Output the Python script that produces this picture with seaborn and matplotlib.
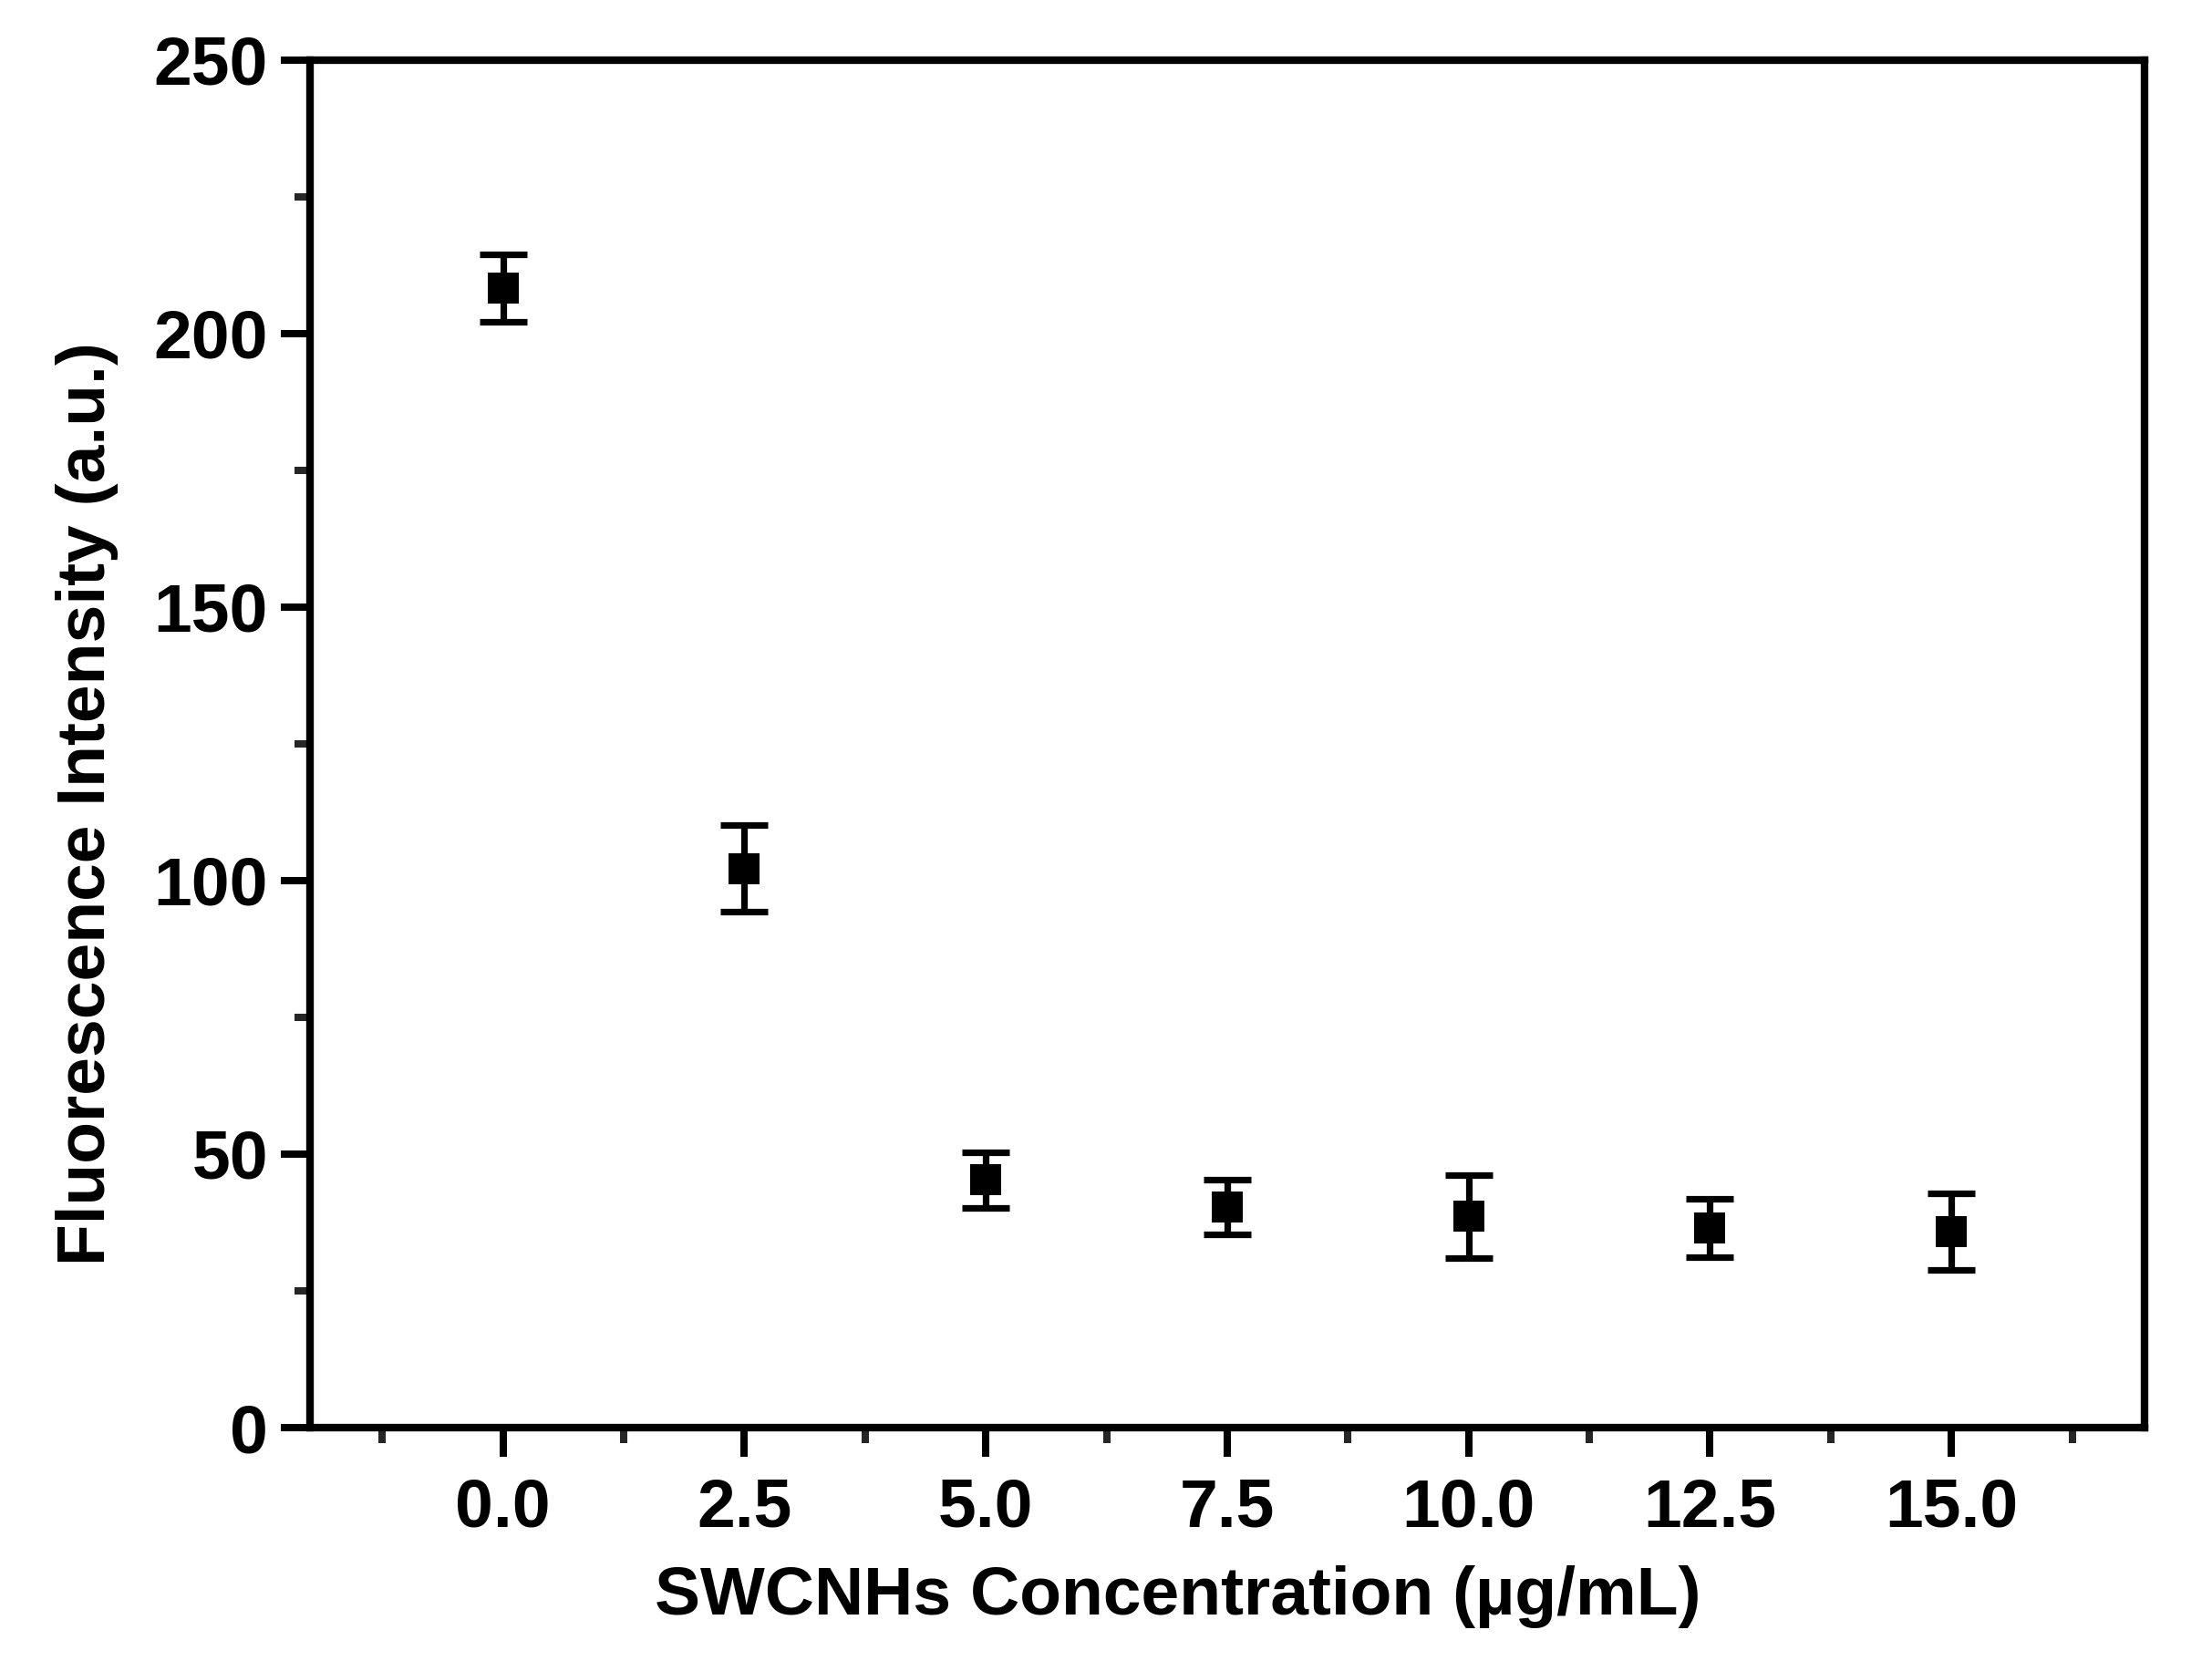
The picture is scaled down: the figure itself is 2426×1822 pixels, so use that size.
import numpy as np
import pandas as pd
import matplotlib
matplotlib.use("Agg")
import matplotlib.pyplot as plt
import seaborn as sns
from matplotlib.ticker import MultipleLocator, FixedLocator

# Données
concentration = [0.0, 2.5, 5.0, 7.5, 10.0, 12.5, 15.0]
intensite = [208.3, 102.2, 45.3, 40.3, 38.6, 36.5, 35.8]
erreur = [6.2, 7.9, 5.1, 5.0, 7.6, 5.3, 7.0]

x_ticks = [0.0, 2.5, 5.0, 7.5, 10.0, 12.5, 15.0]
x_labels = ["0.0", "2.5", "5.0", "7.5", "10.0", "12.5", "15.0"]
y_ticks = [0, 50, 100, 150, 200, 250]

df = pd.DataFrame({"conc": concentration, "fi": intensite, "err": erreur})

sns.set_style("ticks")
plt.rcParams['font.family'] = ['Liberation Sans', 'DejaVu Sans']
plt.rcParams['font.weight'] = 'bold'

fig = plt.figure(figsize=(12.13, 9.11), dpi=200)
ax = fig.add_axes([0.1401, 0.1405, 0.9695 - 0.1401, 0.9638 - 0.1405])

# Barres d'erreur
ax.errorbar(df["conc"], df["fi"], yerr=df["err"], fmt="none", ecolor="black",
            elinewidth=2.6, capsize=9.5, capthick=2.6, zorder=2)
# Points
sns.scatterplot(data=df, x="conc", y="fi", marker="s", s=150, color="black",
                linewidth=0, ax=ax, zorder=3)

ax.set_xlim(-2, 17)
ax.set_ylim(0, 250)
ax.set_xticks(x_ticks)
ax.set_xticklabels(x_labels)
ax.set_yticks(y_ticks)
ax.xaxis.set_minor_locator(FixedLocator(np.arange(-1.25, 17, 2.5)))
ax.yaxis.set_minor_locator(MultipleLocator(25))

for sp in ax.spines.values():
    sp.set_linewidth(3.0)
    sp.set_color("black")
    sp.set_visible(True)

ax.tick_params(axis="both", which="major", direction="out", length=11.5, width=2.9,
               labelsize=27, colors="black")
ax.tick_params(axis="both", which="minor", direction="out", length=6, width=2.9)
ax.tick_params(axis="x", which="major", pad=8)
ax.tick_params(axis="y", which="major", pad=5)

ax.set_xlabel("SWCNHs Concentration (\u00b5g/mL)", fontsize=27, fontweight="bold",
              labelpad=10, color="black")
ax.set_ylabel("Fluorescence Intensity (a.u.)", fontsize=27, fontweight="bold",
              labelpad=14, color="black")
ax.xaxis.label.set_x(0.473)
ax.yaxis.label.set_y(0.456)

plt.savefig("out.png", dpi=200)
plt.close()
